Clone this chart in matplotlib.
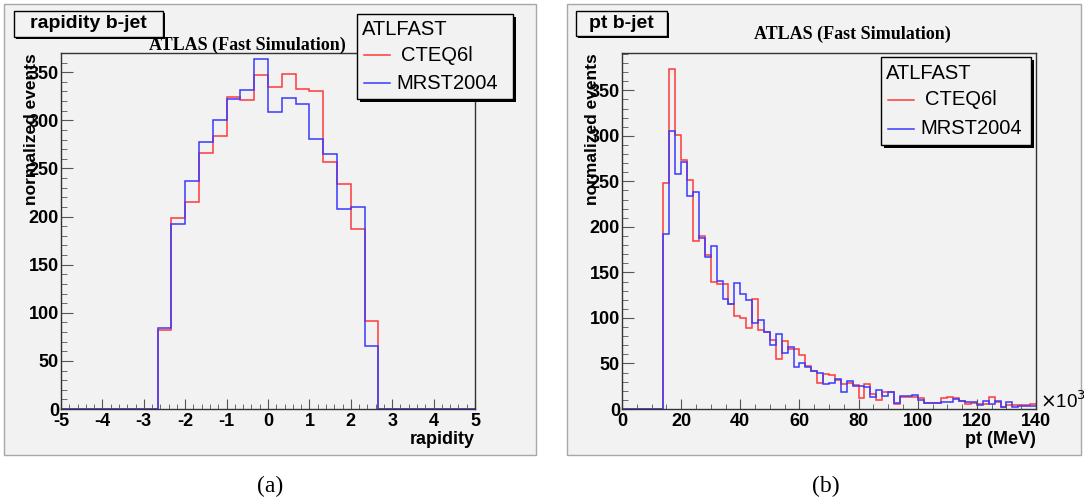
import numpy as np
import matplotlib
matplotlib.use('Agg')
import matplotlib.pyplot as plt
from matplotlib.patches import Rectangle
from matplotlib.lines import Line2D
from matplotlib.ticker import MultipleLocator

plt.rcParams['font.family'] = ['Liberation Sans', 'DejaVu Sans']
plt.rcParams['axes.unicode_minus'] = False

# rapidity of b-jet, 30 bins from -5 to 5
rap_edges = np.linspace(-5, 5, 31)
rap_cteq = [0, 0, 0, 0, 0, 0, 0,
            82, 198, 215, 266, 284, 324, 321, 347, 335, 348, 333, 330, 257, 234, 187, 91,
            0, 0, 0, 0, 0, 0, 0]
rap_mrst = [0, 0, 0, 0, 0, 0, 0,
            84, 192, 237, 278, 300, 322, 332, 364, 309, 323, 317, 281, 265, 208, 210, 65,
            0, 0, 0, 0, 0, 0, 0]

# pt of b-jet (x10^3 MeV), 70 bins from 0 to 140
pt_edges = np.linspace(0, 140, 71)
pt_cteq = [0, 0, 0, 0, 0, 0, 0,
           248, 373, 301, 273, 252, 184, 190, 169, 140, 137, 137, 115, 102, 100, 89, 121, 87, 85,
           76, 55, 75, 66, 66, 59, 47, 42, 29, 38, 37, 32, 27, 29, 26, 12, 27, 17, 10, 19, 19, 5,
           13, 13, 13, 12, 7, 7, 7, 12, 13, 12, 9, 5.5, 7, 5, 6, 13, 8, 2, 4, 4, 4, 4, 5.5]
pt_mrst = [0, 0, 0, 0, 0, 0, 0,
           192, 305, 258, 271, 234, 238, 188, 167, 179, 141, 121, 115, 138, 126, 120, 95, 98, 85,
           70, 82, 62, 68, 46, 50, 46, 42, 40, 27, 29, 33, 19, 31, 25, 25, 24, 13, 21, 14, 19, 7,
           14, 14, 15, 10, 7, 7, 7, 8, 8, 11, 8.5, 7.7, 7.7, 4, 9, 5.5, 8.5, 2, 8, 2, 3, 3, 3]

series_names = ['CTEQ6l', 'MRST2004']
red = '#ff3a3a'
blue = '#3a3aff'
bg = '#f2f2f2'

W, H = 1084, 501
fig = plt.figure(figsize=(W / 100, H / 100), dpi=100)

def fx(px):
    return px / W

def fy(py):
    return 1 - py / H

def box(x0, y0, x1, y1, shadow=0, fc=bg, ec='black', lw=1.0, z=5):
    if shadow:
        fig.add_artist(Rectangle((fx(x0 + shadow), fy(y1 + shadow)), fx(x1 - x0), (y1 - y0) / H,
                                 transform=fig.transFigure, fc='black', ec='none', zorder=z))
    fig.add_artist(Rectangle((fx(x0), fy(y1)), fx(x1 - x0), (y1 - y0) / H,
                             transform=fig.transFigure, fc=fc, ec=ec, lw=lw, zorder=z + 0.1))

# pad backgrounds
box(4, 4, 536, 455, fc=bg, ec='#a8a8a8', z=-10)
box(567, 4, 1081, 455, fc=bg, ec='#a8a8a8', z=-10)

def setup(ax, xlim, ylim, xmaj, xmin, xlabel):
    ax.set_facecolor(bg)
    ax.set_xlim(*xlim)
    ax.set_ylim(*ylim)
    ax.xaxis.set_major_locator(MultipleLocator(xmaj))
    ax.xaxis.set_minor_locator(MultipleLocator(xmin))
    ax.yaxis.set_major_locator(MultipleLocator(50))
    ax.yaxis.set_minor_locator(MultipleLocator(10))
    ax.tick_params(which='both', direction='in', color='#555555', top=False, right=False)
    ax.tick_params(axis='x', which='major', length=7.5, pad=3, labelsize=13)
    ax.tick_params(axis='x', which='minor', length=3.5)
    ax.tick_params(axis='y', which='major', length=8.5, pad=1.5, labelsize=13)
    ax.tick_params(axis='y', which='minor', length=4.5)
    for lab in ax.get_xticklabels() + ax.get_yticklabels():
        lab.set_fontweight('bold')
    for s in ax.spines.values():
        s.set_color('#333333')
        s.set_linewidth(1.0)
    ax.set_xlabel(xlabel, loc='right', fontsize=13, fontweight='bold')
    ax.xaxis.set_label_coords(1.0, -0.087)
    ax.xaxis.label.set_va('center')
    ax.set_ylabel('normalized events', loc='top', fontsize=12.5, fontweight='bold')
    ax.yaxis.set_label_coords(-0.072, 1.0)
    ax.yaxis.label.set_va('center')

# (a) rapidity
ax1 = fig.add_axes([fx(61), fy(409), fx(414), 356 / H])
ax1.stairs(rap_cteq, rap_edges, color=red, lw=1.1, baseline=None)
ax1.stairs(rap_mrst, rap_edges, color=blue, lw=1.1, baseline=None)
setup(ax1, (-5, 5), (0, 370), 1, 0.2, 'rapidity')

# (b) pt
ax2 = fig.add_axes([fx(622), fy(409), fx(414), 356 / H])
ax2.stairs(pt_cteq, pt_edges, color=red, lw=1.1, baseline=None)
ax2.stairs(pt_mrst, pt_edges, color=blue, lw=1.1, baseline=None)
setup(ax2, (0, 140), (0, 391), 20, 5, 'pt (MeV)')
fig.text(fx(1040), fy(401), r'$\times$10$^3$', fontsize=13.5, va='center', ha='left')

# histogram title boxes
box(14, 11, 163, 37, shadow=2)
fig.text(fx(88.5), fy(24), 'rapidity b-jet', ha='center', va='center',
         fontsize=14, fontweight='bold', zorder=7)
box(576, 11, 667, 36, shadow=2)
fig.text(fx(621.5), fy(23.5), 'pt b-jet', ha='center', va='center',
         fontsize=14, fontweight='bold', zorder=7)

# ATLAS titles
for cx, cy in [(247, 45), (852, 34)]:
    fig.text(fx(cx), fy(cy), 'ATLAS (Fast Simulation)', ha='center', va='center',
             fontsize=13, fontweight='bold', family='Liberation Serif')

# legends
def legend(x0, y0, x1, y1):
    box(x0, y0, x1, y1, shadow=3)
    row = (y1 - y0) / 3.0
    fig.text(fx(x0 + 5), fy(y0 + row * 0.55), 'ATLFAST', ha='left', va='center',
             fontsize=14.5, zorder=7)
    for i, (name, col) in enumerate(zip(series_names, [red, blue])):
        yy = y0 + row * (1.45 + i * 1.0)
        fig.add_artist(Line2D([fx(x0 + 7), fx(x0 + 33)], [fy(yy), fy(yy)], color=col, lw=1.1,
                              transform=fig.transFigure, zorder=7))
        fig.text(fx(x0 + 44 - 5 * i), fy(yy), name, ha='left', va='center', fontsize=14.5, zorder=7)

legend(357, 14, 513, 99)
legend(881, 57, 1031, 145)

# sub-figure captions
fig.text(fx(270), fy(486), '(a)', ha='center', va='center', fontsize=17, family='Liberation Serif')
fig.text(fx(826), fy(486), '(b)', ha='center', va='center', fontsize=17, family='Liberation Serif')

fig.savefig('out.png', dpi=100, facecolor='white')
